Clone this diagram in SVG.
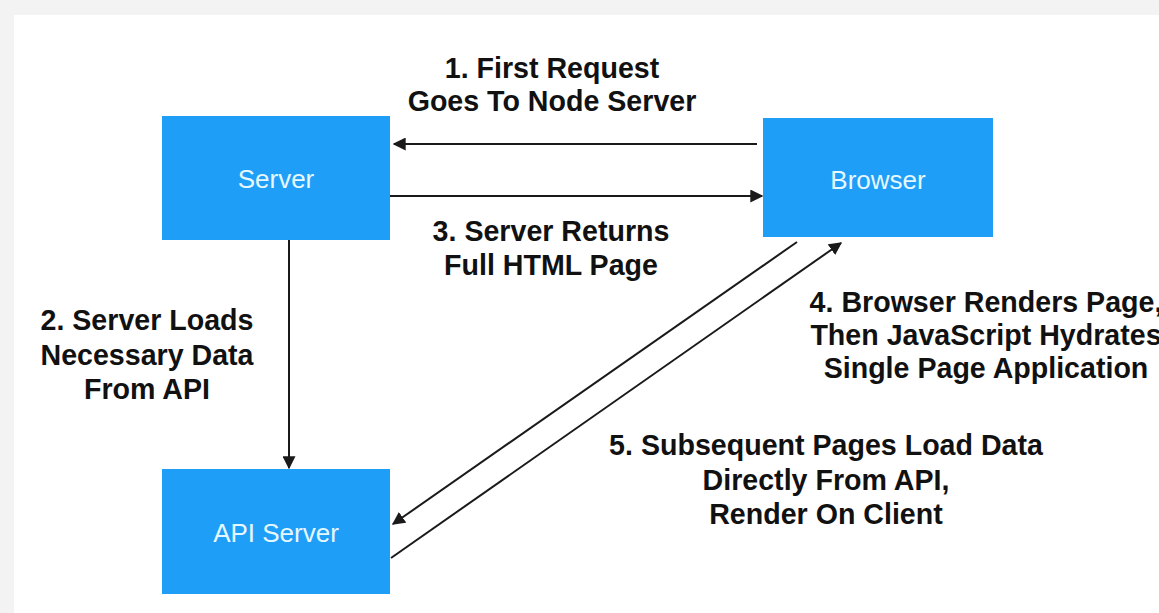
<svg xmlns="http://www.w3.org/2000/svg" width="1159" height="613" viewBox="0 0 1159 613">
  <style>
    .node { fill: #1e9ef7; }
    .nlabel { font-family: "Liberation Sans", Arial, sans-serif; font-size: 26px; fill: #e6f8ff; text-anchor: middle; }
    .elabel { font-family: "Liberation Sans", Arial, sans-serif; font-size: 28.6px; font-weight: bold; fill: #111; text-anchor: middle; }
    .edge { stroke: #1a1a1a; stroke-width: 2; fill: none; marker-end: url(#head); }
  </style>
  <defs>
    <marker id="head" viewBox="0 0 10 10" refX="9" refY="5" markerWidth="6.5" markerHeight="6.5" orient="auto" markerUnits="strokeWidth">
      <path d="M0,0 L10,5 L0,10 z" fill="#1a1a1a"/>
    </marker>
  </defs>

  <!-- page frame -->
  <rect x="0" y="0" width="1159" height="613" fill="#f3f3f3"/>
  <rect x="14" y="15" width="1145" height="598" fill="#ffffff"/>

  <g id="connectors">
    <line class="edge" x1="757" y1="144" x2="394" y2="144"/>
    <line class="edge" x1="390" y1="196" x2="762" y2="196"/>
    <line class="edge" x1="289" y1="240" x2="289" y2="468"/>
    <line class="edge" x1="797" y1="242" x2="393" y2="524"/>
    <line class="edge" x1="391" y1="558" x2="841" y2="243"/>
  </g>

  <g id="server">
    <rect class="node" x="162" y="116" width="228" height="124"/>
    <text class="nlabel" x="276" y="188">Server</text>
  </g>
  <g id="browser">
    <rect class="node" x="763" y="118" width="230" height="119"/>
    <text class="nlabel" x="878" y="189">Browser</text>
  </g>
  <g id="api-server">
    <rect class="node" x="162" y="469" width="228" height="125"/>
    <text class="nlabel" x="276" y="542">API Server</text>
  </g>

  <g id="edge-labels">
    <text class="elabel" x="552" y="78">1. First Request</text>
    <text class="elabel" x="552" y="111">Goes To Node Server</text>
    <text class="elabel" x="551" y="241">3. Server Returns</text>
    <text class="elabel" x="551" y="275">Full HTML Page</text>
    <text class="elabel" x="147" y="330">2. Server Loads</text>
    <text class="elabel" x="147" y="365">Necessary Data</text>
    <text class="elabel" x="147" y="399">From API</text>
    <text class="elabel" x="986" y="312">4. Browser Renders Page,</text>
    <text class="elabel" x="986" y="345">Then JavaScript Hydrates</text>
    <text class="elabel" x="986" y="378">Single Page Application</text>
    <text class="elabel" x="826" y="455">5. Subsequent Pages Load Data</text>
    <text class="elabel" x="826" y="490">Directly From API,</text>
    <text class="elabel" x="826" y="524">Render On Client</text>
  </g>
</svg>
